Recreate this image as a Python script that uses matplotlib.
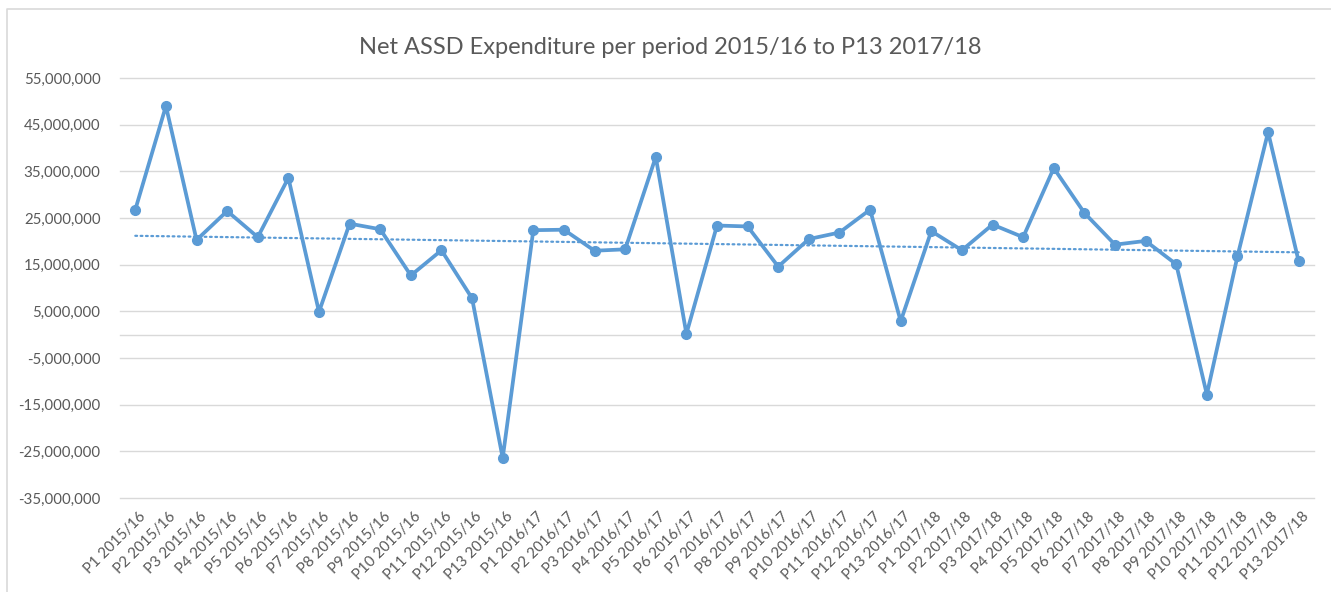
import numpy as np
import matplotlib
matplotlib.use("Agg")
import matplotlib.pyplot as plt
import matplotlib.transforms as mtransforms
from matplotlib.ticker import FuncFormatter

plt.rcParams["font.family"] = ["Lato", "DejaVu Sans"]

# ── DATA ─────────────────────────────────────────────────────────────────────
years = ["2015/16", "2016/17", "2017/18"]
periods = [f"P{i}" for i in range(1, 14)]
labels = [f"{p} {y}" for y in years for p in periods]

# net expenditure per period (£)
net_2015 = [26.8e6, 49.0e6, 20.3e6, 26.5e6, 20.9e6, 33.6e6, 4.9e6,
            23.8e6, 22.6e6, 12.7e6, 18.1e6, 7.8e6, -26.4e6]
net_2016 = [22.4e6, 22.5e6, 18.0e6, 18.3e6, 38.1e6, 0.2e6, 23.4e6,
            23.2e6, 14.6e6, 20.5e6, 21.9e6, 26.8e6, 2.9e6]
net_2017 = [22.2e6, 18.1e6, 23.6e6, 20.9e6, 35.7e6, 26.1e6, 19.3e6,
            20.1e6, 15.1e6, -12.8e6, 16.8e6, 43.4e6, 15.7e6]
values = np.array(net_2015 + net_2016 + net_2017)

y_ticks = np.arange(-35e6, 55e6 + 1, 10e6)

BLUE = "#5B9BD5"
GRID = "#D9D9D9"
TEXT = "#595959"

# ── PLOT ─────────────────────────────────────────────────────────────────────
fig = plt.figure(figsize=(13.31, 5.92), dpi=100)
ax = fig.add_axes([120 / 1331, 1 - 500 / 592, 1194 / 1331, 422 / 592])

x = np.arange(len(values))

# horizontal gridlines + category axis line at zero
for yv in list(y_ticks) + [0]:
    ax.axhline(yv, color=GRID, lw=1.0, zorder=1, clip_on=False)

# linear trendline (Excel style, dotted)
slope, intercept = np.polyfit(x, values, 1)
ax.plot(x, slope * x + intercept, color=BLUE, lw=1.6, ls=(0, (0.8, 1.6)),
        dash_capstyle="round", zorder=2)

ax.plot(x, values, color=BLUE, lw=2.7, marker="o", markersize=7,
        solid_joinstyle="round", zorder=3)

ax.set_xlim(-0.5, len(values) - 0.5)
ax.set_ylim(y_ticks[0] - 0.4e6, y_ticks[-1])
ax.set_yticks(y_ticks)
ax.yaxis.set_major_formatter(FuncFormatter(lambda v, _: f"{v:,.0f}"))

for s in ax.spines.values():
    s.set_visible(False)

ax.tick_params(axis="both", length=0, colors=TEXT, labelsize=10.8)
ax.tick_params(axis="y", pad=14)
ax.tick_params(axis="x", pad=7)

ax.set_xticks(x)
ax.set_xticklabels(labels, rotation=45, ha="right", rotation_mode="anchor")
offset = mtransforms.ScaledTranslation(3 / 100, 0, fig.dpi_scale_trans)
for lbl in ax.get_xticklabels():
    lbl.set_transform(lbl.get_transform() + offset)

fig.text(670 / 1331, 1 - 47 / 592, "Net ASSD Expenditure per period 2015/16 to P13 2017/18",
         ha="center", va="center", fontsize=17, color=TEXT)

# chart area border
fig.add_artist(plt.Line2D([7 / 1331, 7 / 1331, 1], [0, 1 - 9 / 592, 1 - 9 / 592],
                          color=GRID, lw=1.2, transform=fig.transFigure))

fig.savefig("out.png", dpi=100, facecolor="white")
